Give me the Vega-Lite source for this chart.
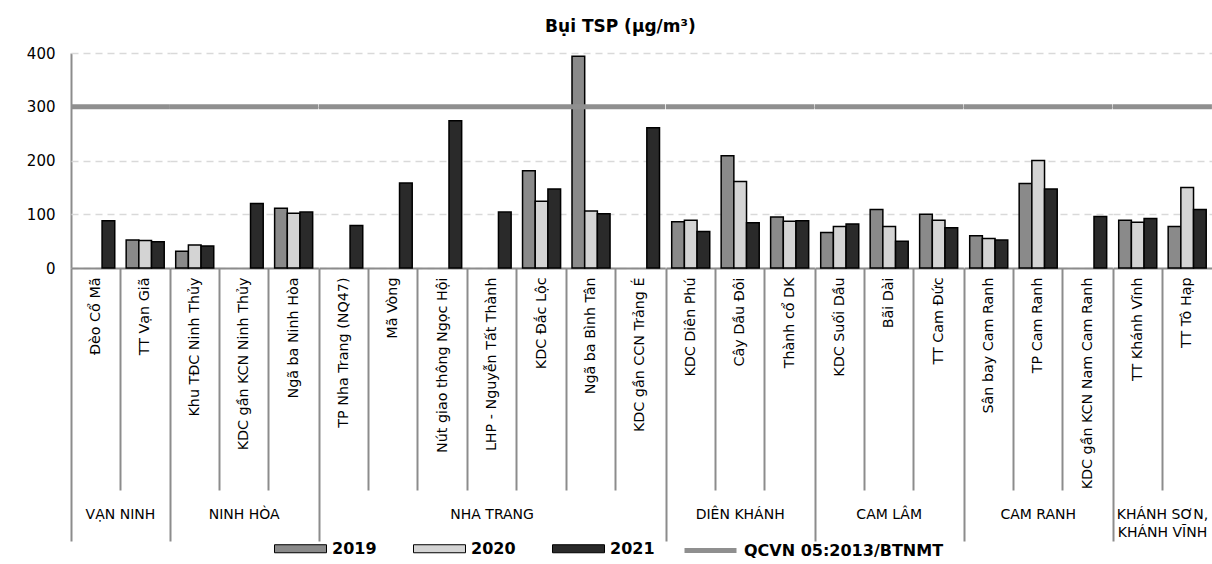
{
  "$schema": "https://vega.github.io/schema/vega-lite/v6.json",
  "padding": {"left": 26, "top": 18, "right": 2, "bottom": 0},
  "background": "white",
  "title": {"text": "Bụi TSP (µg/m³)", "font": "DejaVu Sans", "fontSize": 17, "fontWeight": "bold", "color": "#000", "anchor": "middle", "offset": 10},
  "data": {"values": [
    {"district": "VẠN NINH", "station": "Đèo Cổ Mã", "year": "2021", "value": 88},
    {"district": "VẠN NINH", "station": "TT Vạn Giã", "year": "2019", "value": 52},
    {"district": "VẠN NINH", "station": "TT Vạn Giã", "year": "2020", "value": 51},
    {"district": "VẠN NINH", "station": "TT Vạn Giã", "year": "2021", "value": 49},
    {"district": "NINH HÒA", "station": "Khu TĐC Ninh Thủy", "year": "2019", "value": 31},
    {"district": "NINH HÒA", "station": "Khu TĐC Ninh Thủy", "year": "2020", "value": 43},
    {"district": "NINH HÒA", "station": "Khu TĐC Ninh Thủy", "year": "2021", "value": 41},
    {"district": "NINH HÒA", "station": "KDC gần KCN Ninh Thủy", "year": "2021", "value": 120},
    {"district": "NINH HÒA", "station": "Ngã ba Ninh Hòa", "year": "2019", "value": 111},
    {"district": "NINH HÒA", "station": "Ngã ba Ninh Hòa", "year": "2020", "value": 102},
    {"district": "NINH HÒA", "station": "Ngã ba Ninh Hòa", "year": "2021", "value": 104},
    {"district": "NHA TRANG", "station": "TP Nha Trang (NQ47)", "year": "2021", "value": 79},
    {"district": "NHA TRANG", "station": "Mã Vòng", "year": "2021", "value": 158},
    {"district": "NHA TRANG", "station": "Nút giao thông Ngọc Hội", "year": "2021", "value": 274},
    {"district": "NHA TRANG", "station": "LHP - Nguyễn Tất Thành", "year": "2021", "value": 104},
    {"district": "NHA TRANG", "station": "KDC Đắc Lộc", "year": "2019", "value": 181},
    {"district": "NHA TRANG", "station": "KDC Đắc Lộc", "year": "2020", "value": 124},
    {"district": "NHA TRANG", "station": "KDC Đắc Lộc", "year": "2021", "value": 147},
    {"district": "NHA TRANG", "station": "Ngã ba Bình Tân", "year": "2019", "value": 394},
    {"district": "NHA TRANG", "station": "Ngã ba Bình Tân", "year": "2020", "value": 106},
    {"district": "NHA TRANG", "station": "Ngã ba Bình Tân", "year": "2021", "value": 101},
    {"district": "NHA TRANG", "station": "KDC gần CCN Trảng É", "year": "2021", "value": 261},
    {"district": "DIÊN KHÁNH", "station": "KDC Diên Phú", "year": "2019", "value": 86},
    {"district": "DIÊN KHÁNH", "station": "KDC Diên Phú", "year": "2020", "value": 89},
    {"district": "DIÊN KHÁNH", "station": "KDC Diên Phú", "year": "2021", "value": 68},
    {"district": "DIÊN KHÁNH", "station": "Cây Dầu Đôi", "year": "2019", "value": 209},
    {"district": "DIÊN KHÁNH", "station": "Cây Dầu Đôi", "year": "2020", "value": 161},
    {"district": "DIÊN KHÁNH", "station": "Cây Dầu Đôi", "year": "2021", "value": 84},
    {"district": "DIÊN KHÁNH", "station": "Thành cổ DK", "year": "2019", "value": 95},
    {"district": "DIÊN KHÁNH", "station": "Thành cổ DK", "year": "2020", "value": 87},
    {"district": "DIÊN KHÁNH", "station": "Thành cổ DK", "year": "2021", "value": 88},
    {"district": "CAM LÂM", "station": "KDC Suối Dầu", "year": "2019", "value": 66},
    {"district": "CAM LÂM", "station": "KDC Suối Dầu", "year": "2020", "value": 77},
    {"district": "CAM LÂM", "station": "KDC Suối Dầu", "year": "2021", "value": 82},
    {"district": "CAM LÂM", "station": "Bãi Dài", "year": "2019", "value": 109},
    {"district": "CAM LÂM", "station": "Bãi Dài", "year": "2020", "value": 77},
    {"district": "CAM LÂM", "station": "Bãi Dài", "year": "2021", "value": 50},
    {"district": "CAM LÂM", "station": "TT Cam Đức", "year": "2019", "value": 100},
    {"district": "CAM LÂM", "station": "TT Cam Đức", "year": "2020", "value": 89},
    {"district": "CAM LÂM", "station": "TT Cam Đức", "year": "2021", "value": 75},
    {"district": "CAM RANH", "station": "Sân bay Cam Ranh", "year": "2019", "value": 60},
    {"district": "CAM RANH", "station": "Sân bay Cam Ranh", "year": "2020", "value": 55},
    {"district": "CAM RANH", "station": "Sân bay Cam Ranh", "year": "2021", "value": 52},
    {"district": "CAM RANH", "station": "TP Cam Ranh", "year": "2019", "value": 157},
    {"district": "CAM RANH", "station": "TP Cam Ranh", "year": "2020", "value": 200},
    {"district": "CAM RANH", "station": "TP Cam Ranh", "year": "2021", "value": 147},
    {"district": "CAM RANH", "station": "KDC gần KCN Nam Cam Ranh", "year": "2021", "value": 96},
    {"district": "KHÁNH SƠN, KHÁNH VĨNH", "station": "TT Khánh Vĩnh", "year": "2019", "value": 89},
    {"district": "KHÁNH SƠN, KHÁNH VĨNH", "station": "TT Khánh Vĩnh", "year": "2020", "value": 85},
    {"district": "KHÁNH SƠN, KHÁNH VĨNH", "station": "TT Khánh Vĩnh", "year": "2021", "value": 92},
    {"district": "KHÁNH SƠN, KHÁNH VĨNH", "station": "TT Tô Hạp", "year": "2019", "value": 77},
    {"district": "KHÁNH SƠN, KHÁNH VĨNH", "station": "TT Tô Hạp", "year": "2020", "value": 150},
    {"district": "KHÁNH SƠN, KHÁNH VĨNH", "station": "TT Tô Hạp", "year": "2021", "value": 109}
  ]},
  "facet": {
    "column": {
      "field": "district", "type": "nominal",
      "sort": ["VẠN NINH", "NINH HÒA", "NHA TRANG", "DIÊN KHÁNH", "CAM LÂM", "CAM RANH", "KHÁNH SƠN, KHÁNH VĨNH"],
      "title": null,
      "header": {
        "labelOrient": "bottom",
        "labelPadding": 240,
        "labelBaseline": "top",
        "labelFont": "DejaVu Sans",
        "labelFontSize": 14,
        "labelColor": "#000",
        "labelLineHeight": 18,
        "labelLimit": 0,
        "labelExpr": "datum.value == 'KHÁNH SƠN, KHÁNH VĨNH' ? ['KHÁNH SƠN,', 'KHÁNH VĨNH'] : datum.value"
      }
    }
  },
  "spacing": 0,
  "bounds": "flush",
  "resolve": {"scale": {"x": "independent", "xOffset": "independent"}},
  "spec": {
    "width": {"step": 49.46, "for": "position"},
    "height": 215,
    "resolve": {"axis": {"x": "independent"}},
    "layer": [
      {
        "mark": {"type": "bar", "stroke": "#000", "strokeWidth": 1.5},
        "encoding": {
          "x": {
            "field": "station", "type": "nominal", "sort": null, "title": null,
            "scale": {"paddingInner": 0, "paddingOuter": 0},
            "axis": {"orient": "bottom", "labelAngle": -90, "labelPadding": 9, "ticks": false, "domainColor": "#8c8c8c", "domainWidth": 2, "labelFont": "DejaVu Sans", "labelFontSize": 14.3, "labelColor": "#000", "labelLimit": 400}
          },
          "xOffset": {"field": "year", "type": "nominal", "scale": {"domain": ["2019", "2020", "2021"], "paddingInner": 0, "paddingOuter": 0.45}},
          "y": {
            "field": "value", "type": "quantitative", "title": null,
            "scale": {"domain": [0, 400]},
            "axis": {"values": [0, 100, 200, 300, 400], "ticks": false, "labelPadding": 16, "labelFont": "DejaVu Sans", "labelFontSize": 15, "labelColor": "#000", "domainColor": "#8c8c8c", "domainWidth": 2, "grid": true, "gridColor": "#d9d9d9", "gridDash": [7, 5], "gridWidth": 1.5}
          },
          "fill": {
            "field": "year", "type": "nominal",
            "scale": {"domain": ["2019", "2020", "2021"], "range": ["#8a8a8a", "#d4d4d4", "#2a2a2a"]},
            "legend": {"title": null, "orient": "none", "legendX": 203, "legendY": 469, "direction": "horizontal", "symbolType": "M-1,-0.154H1V0.154H-1Z", "symbolSize": 2704, "symbolStrokeColor": "#000", "symbolStrokeWidth": 1, "labelFont": "DejaVu Sans", "labelFontWeight": "bold", "labelFontSize": 16, "labelColor": "#000", "labelOffset": 5, "columnPadding": 34}
          }
        }
      },
      {
        "mark": {"type": "bar", "opacity": 0},
        "encoding": {
          "x": {
            "field": "station", "type": "nominal", "sort": null, "title": null,
            "axis": {"orient": "bottom", "labels": false, "domain": false, "bandPosition": 0, "tickColor": "#8c8c8c", "tickWidth": 2,
              "tickSize": {"condition": {"test": "indexof(['Đèo Cổ Mã','Khu TĐC Ninh Thủy','TP Nha Trang (NQ47)','KDC Diên Phú','KDC Suối Dầu','Sân bay Cam Ranh','TT Khánh Vĩnh'], datum.value) >= 0", "value": 273}, "value": 222}}
          }
        }
      },
      {
        "transform": [{"aggregate": [{"op": "count", "as": "n"}], "groupby": ["district"]}],
        "mark": {"type": "rule", "strokeWidth": 5},
        "encoding": {
          "y": {"datum": 300, "type": "quantitative"},
          "stroke": {
            "datum": "QCVN 05:2013/BTNMT", "type": "nominal",
            "scale": {"range": ["#8f8f8f"]},
            "legend": {"title": null, "orient": "none", "legendX": 611, "legendY": 469, "symbolType": "stroke", "symbolSize": 2704, "symbolStrokeWidth": 5, "labelFont": "DejaVu Sans", "labelFontWeight": "bold", "labelFontSize": 16, "labelColor": "#000", "labelOffset": 5, "labelLimit": 400}
          }
        }
      }
    ]
  },
  "config": {"view": {"stroke": null}}
}
